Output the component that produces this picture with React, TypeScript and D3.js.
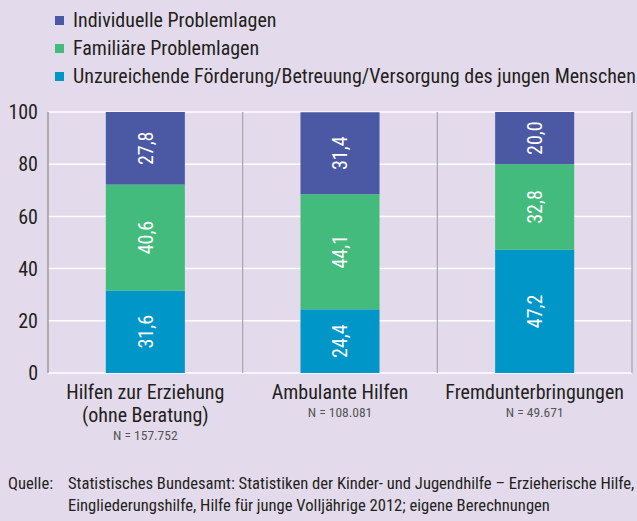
import React, { useRef, useEffect } from "react";
import * as d3 from "d3";

const categories = ["Hilfen zur Erziehung", "Ambulante Hilfen", "Fremdunterbringungen"];
const categoryLines = [["Hilfen zur Erziehung", "(ohne Beratung)"], ["Ambulante Hilfen"], ["Fremdunterbringungen"]];
const nLabels = ["N = 157.752", "N = 108.081", "N = 49.671"];

const seriesNames = [
  "Unzureichende Förderung/Betreuung/Versorgung des jungen Menschen",
  "Familiäre Problemlagen",
  "Individuelle Problemlagen",
];
const unzureichend = [31.6, 24.4, 47.2];
const familiaer = [40.6, 44.1, 32.8];
const individuell = [27.8, 31.4, 20.0];
const colors = ["#0096c8", "#42bb7c", "#4b58a3"];

const yTicks = [0, 20, 40, 60, 80, 100];
const source1 = "Statistisches Bundesamt: Statistiken der Kinder- und Jugendhilfe – Erzieherische Hilfe,";
const source2 = "Eingliederungshilfe, Hilfe für junge Volljährige 2012; eigene Berechnungen";

const FONT = "'Liberation Sans Narrow', 'Roboto Condensed', 'Arial Narrow', sans-serif";

const App = () => {
  const svgRef = useRef(null);

  useEffect(() => {
    const svg = d3.select(svgRef.current);
    svg.selectAll("*").remove();
    const W = 637, H = 521;
    const left = 48, right = 632, top = 112, bottom = 373;

    svg.append("rect").attr("width", W).attr("height", H).attr("fill", "#e3dbeb");

    const x = d3.scaleBand().domain(categories).range([left, right]).paddingInner(0.594).paddingOuter(0.297);
    const y = d3.scaleLinear().domain([0, 100]).range([bottom, top]);

    // gridlines
    svg.append("g").selectAll("line").data(yTicks).join("line")
      .attr("x1", left).attr("x2", right)
      .attr("y1", (d) => y(d)).attr("y2", (d) => y(d))
      .attr("stroke", "#ffffff").attr("stroke-width", 1.5);

    // band separators
    const step = (right - left) / categories.length;
    svg.append("g").selectAll("line").data(d3.range(categories.length + 1)).join("line")
      .attr("x1", (i) => left + i * step).attr("x2", (i) => left + i * step)
      .attr("y1", top).attr("y2", bottom)
      .attr("stroke", (i) => (i === 0 ? "#8a8a8a" : "#a8a4ad")).attr("stroke-width", 1.2);

    // y axis labels
    svg.append("g").selectAll("text").data(yTicks).join("text")
      .attr("x", 38).attr("y", (d) => y(d)).attr("dy", "0.36em")
      .attr("text-anchor", "end").attr("font-family", FONT).attr("font-size", 20)
      .attr("fill", "#231f20").text((d) => d);

    const stackData = categories.map((c, i) => ({ cat: c, s0: unzureichend[i], s1: familiaer[i], s2: individuell[i] }));
    const stack = d3.stack().keys(["s0", "s1", "s2"])(stackData);

    const groups = svg.append("g").selectAll("g").data(stack).join("g").attr("fill", (d, i) => colors[i]);
    groups.selectAll("rect").data((d) => d).join("rect")
      .attr("x", (d) => x(d.data.cat))
      .attr("width", x.bandwidth())
      .attr("y", (d) => y(d[1]))
      .attr("height", (d) => y(d[0]) - y(d[1]));

    groups.selectAll("text").data((d) => d).join("text")
      .attr("transform", (d) => `translate(${x(d.data.cat) + x.bandwidth() / 2},${(y(d[0]) + y(d[1])) / 2}) rotate(-90)`)
      .attr("text-anchor", "middle").attr("dy", "0.36em")
      .attr("font-family", FONT).attr("font-size", 20).attr("fill", "#ffffff")
      .text((d) => (d[1] - d[0]).toFixed(1).replace(".", ","));

    // category labels
    categories.forEach((c, i) => {
      const cx = x(c) + x.bandwidth() / 2;
      const lines = categoryLines[i];
      lines.forEach((l, j) => {
        svg.append("text").attr("x", cx).attr("y", 399 + j * 23)
          .attr("text-anchor", "middle").attr("font-family", FONT).attr("font-size", 20)
          .attr("fill", "#231f20").text(l);
      });
      svg.append("text").attr("x", cx).attr("y", 399 + (lines.length - 1) * 23 + 18)
        .attr("text-anchor", "middle").attr("font-family", FONT).attr("font-size", 13.5)
        .attr("fill", "#555555").text(nLabels[i]);
    });

    // legend
    const legendOrder = [2, 1, 0];
    legendOrder.forEach((si, k) => {
      const ly = 20 + k * 28;
      svg.append("rect").attr("x", 55).attr("y", ly - 4).attr("width", 9).attr("height", 9).attr("fill", colors[si]);
      svg.append("text").attr("x", 73).attr("y", ly).attr("dy", "0.36em")
        .attr("font-family", FONT).attr("font-size", 20).attr("fill", "#231f20").text(seriesNames[si]);
    });

    // source
    svg.append("text").attr("x", 8).attr("y", 489).attr("font-family", FONT).attr("font-size", 16.6)
      .attr("fill", "#231f20").text("Quelle:");
    svg.append("text").attr("x", 68).attr("y", 489).attr("font-family", FONT).attr("font-size", 16.6)
      .attr("fill", "#231f20").text(source1);
    svg.append("text").attr("x", 68).attr("y", 511).attr("font-family", FONT).attr("font-size", 16.6)
      .attr("fill", "#231f20").text(source2);
  }, []);

  return (
    <svg ref={svgRef} width={637} height={521} style={{ position: "absolute", left: 0, top: 0 }}></svg>
  );
};

export default App;
